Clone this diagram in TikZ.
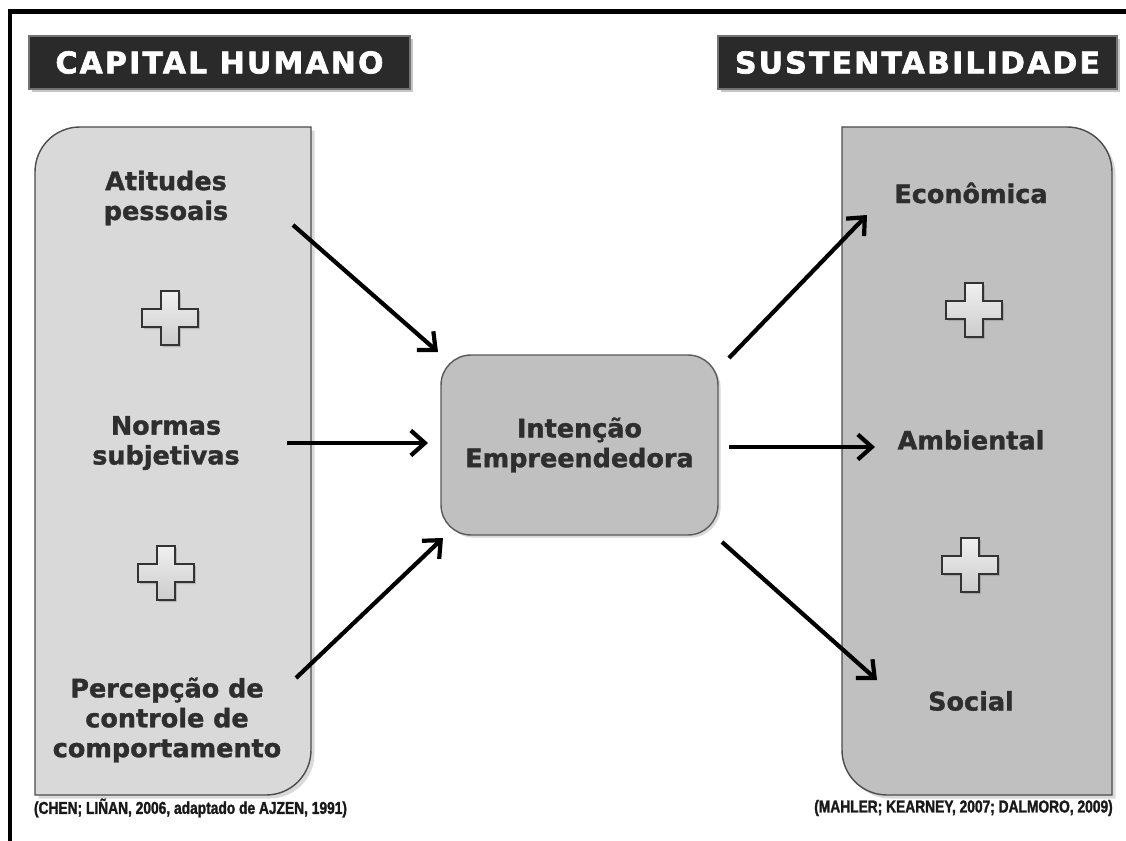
\documentclass[tikz,border=0pt]{standalone}
\usepackage{fontspec}
\setmainfont{DejaVu Sans}
\newfontfamily\itemfont[BoldFeatures={FakeBold=1.4}]{DejaVu Sans}
\newfontfamily\headfont[LetterSpace=7.5, BoldFeatures={FakeBold=2.2}]{DejaVu Sans}
\newfontfamily\citefont[FakeStretch=0.8, BoldFeatures={FakeBold=1.6}]{Liberation Sans}
\usetikzlibrary{arrows.meta,shadows}

\definecolor{inktext}{HTML}{2E2E2E}
\definecolor{lightpanel}{HTML}{D9D9D9}
\definecolor{darkpanel}{HTML}{C0C0C0}
\definecolor{headfill}{HTML}{2A2A2A}

\tikzset{
	header/.style={fill=headfill, draw=black!55, line width=1pt, minimum height=1.06cm, inner sep=0pt,
		text=white, font=\headfont\bfseries\fontsize{17}{20}\selectfont,
		drop shadow={opacity=0.45, shadow xshift=1.5pt, shadow yshift=-1.5pt}},
	item/.style={align=center, text=inktext, font=\itemfont\bfseries\fontsize{14.5}{17}\selectfont},
	core/.style={item, rounded corners=0.6cm, fill=darkpanel, draw=black!65, line width=0.8pt,
		minimum width=5.54cm, minimum height=3.6cm,
		drop shadow={opacity=0.3, shadow xshift=1.5pt, shadow yshift=-1.5pt}},
	cite/.style={text=black!90, font=\citefont\bfseries\fontsize{9.8}{11}\selectfont},
	leftpanel/.style={fill=lightpanel, draw=black!70, line width=0.8pt,
		drop shadow={opacity=0.3, shadow xshift=2pt, shadow yshift=-2pt}},
	rightpanel/.style={leftpanel, fill=darkpanel},
	flow/.style={line width=2.4pt, -{Straight Barb[length=2.8mm, width=5mm]}},
	plussign/.pic={
		\draw [top color=white!94!black, bottom color=black!20, draw=black!80, line width=0.9pt,
			drop shadow={opacity=0.4, shadow xshift=1pt, shadow yshift=-1.2pt}]
			(-9,-27) -- (9,-27) -- (9,-9) -- (28,-9) -- (28,9) -- (9,9) -- (9,27)
			-- (-9,27) -- (-9,9) -- (-28,9) -- (-28,-9) -- (-9,-9) -- cycle;
	}
}

\begin{document}
\begin{tikzpicture}[x=0.02cm, y=-0.02cm]
\useasboundingbox (0,0) rectangle (1126,841);

		\draw [line width=2.3pt] (10,841) -- (10,11.5) -- (1126,11.5);

		\draw [leftpanel] (35,795) -- (35,172) .. controls (35,147) and (55,127) .. (80,127) -- (311,127)
			-- (311,750) .. controls (311,775) and (291,795) .. (266,795) -- cycle;
		\draw [rightpanel] (842,750) -- (842,127) -- (1067,127) .. controls (1092,127) and (1112,147) .. (1112,172)
			-- (1112,795) -- (887,795) .. controls (862,795) and (842,775) .. (842,750) -- cycle;

		\node [header, minimum width=7.62cm] (0) at (219.5,62.5) {CAPITAL HUMANO};
		\node [header, minimum width=7.98cm] (1) at (917.5,62.5) {SUSTENTABILIDADE};
		\node [item] (2) at (166,198) {Atitudes\\pessoais};
		\node [item] (3) at (166,443) {Normas\\subjetivas};
		\node [item] (4) at (167,720) {Percepção de\\controle de\\comportamento};
		\node [core] (5) at (579.5,445) {Intenção\\Empreendedora};
		\node [item] (6) at (971,193) {Econômica};
		\node [item] (7) at (971,440) {Ambiental};
		\node [item] (8) at (971,701) {Social};
		\node [cite] (9) at (190.5,808) {(CHEN; LIÑAN, 2006, adaptado de AJZEN, 1991)};
		\node [cite] (10) at (963.5,808) {(MAHLER; KEARNEY, 2007; DALMORO, 2009)};

		\pic at (170,318) {plussign};
		\pic at (166,573) {plussign};
		\pic at (974,310) {plussign};
		\pic at (970,565) {plussign};

		\coordinate (11) at (293,225);
		\coordinate (12) at (438,352);
		\coordinate (13) at (287,443);
		\coordinate (14) at (428,443);
		\coordinate (15) at (296,678);
		\coordinate (16) at (443,538);
		\coordinate (17) at (729,358);
		\coordinate (18) at (867,215);
		\coordinate (19) at (729,447);
		\coordinate (20) at (875,447);
		\coordinate (21) at (722,542);
		\coordinate (22) at (877,680);

		\draw [flow] (11) -- (12);
		\draw [flow] (13) -- (14);
		\draw [flow] (15) -- (16);
		\draw [flow] (17) -- (18);
		\draw [flow] (19) -- (20);
		\draw [flow] (21) -- (22);
\end{tikzpicture}
\end{document}
